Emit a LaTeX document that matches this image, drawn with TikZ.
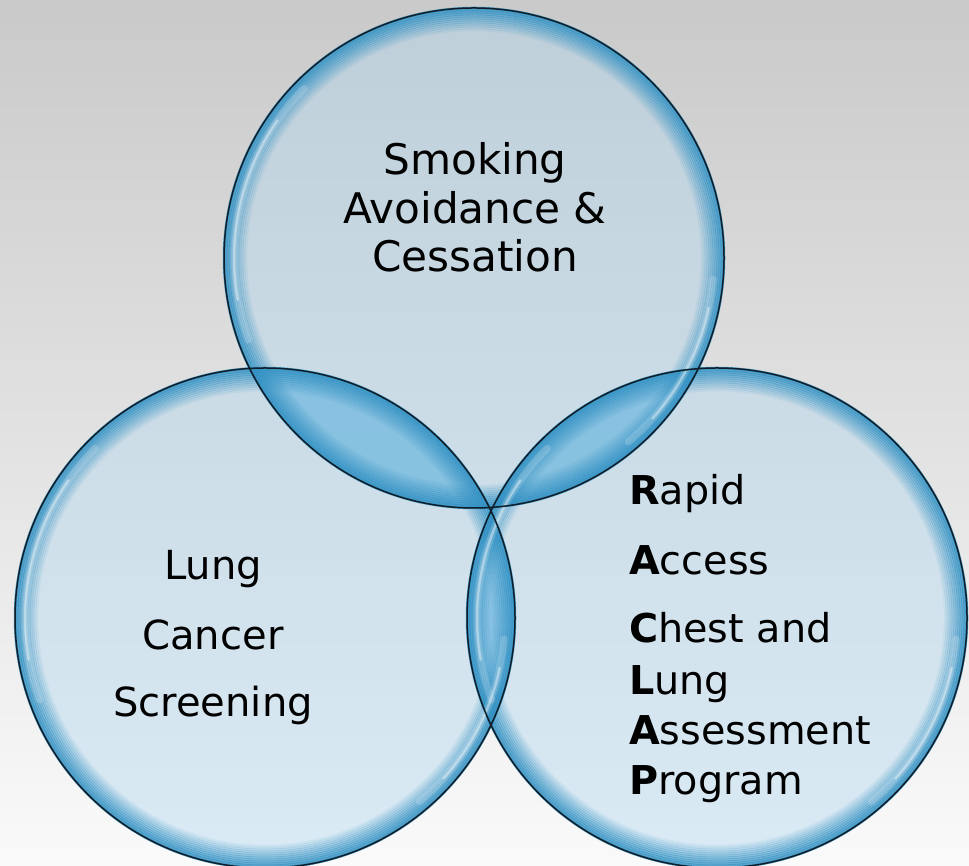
\documentclass[tikz,border=0pt]{standalone}
\usepackage{fontspec}
\setmainfont{DejaVu Sans}
\usepackage{tikz}
\usepackage{xcolor}

\definecolor{bubblefill}{RGB}{175,215,240}
\definecolor{lensblue}{RGB}{70,165,215}
\definecolor{rimblue}{RGB}{50,145,195}
\definecolor{rimdark}{RGB}{15,30,40}

\tikzset{
  bubble/.style={fill=bubblefill,fill opacity=0.42},
  lens/.style={fill=lensblue,fill opacity=0.45},
  outline/.style={draw=rimdark,line width=0.03cm},
  shine/.style={white,line cap=round},
  bigtext/.style={font=\fontsize{24}{28}\selectfont,anchor=base},
  smalltext/.style={font=\fontsize{22.8}{26}\selectfont,anchor=base},
  listtext/.style={font=\fontsize{22.6}{26}\selectfont,anchor=base west}
}

\begin{document}
\begin{tikzpicture}
      \useasboundingbox (0,0) rectangle (19.38,17.30);
      \shade [top color=black!21,bottom color=black!2] (0,0) rectangle (19.38,17.30);
      % circle centres
      \coordinate (top) at (9.48,12.14);
      \coordinate (left) at (5.30,4.94);
      \coordinate (right) at (14.34,4.94);
      % fills
      \fill [bubble] (top) circle (5);
      \fill [bubble] (left) circle (5);
      \fill [bubble] (right) circle (5);
      % overlaps
      \begin{scope}
        \clip (top) circle (5);
        \fill [lens] (left) circle (5);
        \fill [lens] (right) circle (5);
      \end{scope}
      \begin{scope}
        \clip (left) circle (5);
        \fill [lens] (right) circle (5);
      \end{scope}
      % rims
      \foreach \c in {top,left,right}
        \foreach \k in {0,...,11}
          \draw [rimblue,line width=0.05cm,draw opacity={0.85*(1-\k/12)}] (\c) circle ({5-0.04*\k});
      % highlights
      \foreach \c in {top,left,right} {
        \draw [shine,line width=0.14cm,opacity=0.18] (\c) ++(135:4.8) arc [start angle=135,end angle=200,radius=4.8];
        \draw [shine,line width=0.05cm,opacity=0.4] (\c) ++(145:4.8) arc [start angle=145,end angle=190,radius=4.8];
        \draw [shine,line width=0.14cm,opacity=0.18] (\c) ++(-50:4.8) arc [start angle=-50,end angle=-5,radius=4.8];
        \draw [shine,line width=0.05cm,opacity=0.4] (\c) ++(-42:4.8) arc [start angle=-42,end angle=-12,radius=4.8];
      }
      \draw [outline] (top) circle (5);
      \draw [outline] (left) circle (5);
      \draw [outline] (right) circle (5);
      % texts
      \node [bigtext] (sac1) at (9.50,13.80) {Smoking};
      \node [bigtext] (sac2) at (9.50,12.83) {Avoidance \&};
      \node [bigtext] (sac3) at (9.50,11.86) {Cessation};
      \node [smalltext] (lcs1) at (4.26,5.70) {Lung};
      \node [smalltext] (lcs2) at (4.26,4.30) {Cancer};
      \node [smalltext] (lcs3) at (4.26,2.96) {Screening};
      \node [listtext] (rac1) at (12.46,7.20) {\textbf{R}apid};
      \node [listtext] (rac2) at (12.46,5.80) {\textbf{A}ccess};
      \node [listtext] (rac3) at (12.46,4.44) {\textbf{C}hest and};
      \node [listtext] (rac4) at (12.46,3.40) {\textbf{L}ung};
      \node [listtext] (rac5) at (12.46,2.40) {\textbf{A}ssessment};
      \node [listtext] (rac6) at (12.46,1.40) {\textbf{P}rogram};
\end{tikzpicture}
\end{document}
